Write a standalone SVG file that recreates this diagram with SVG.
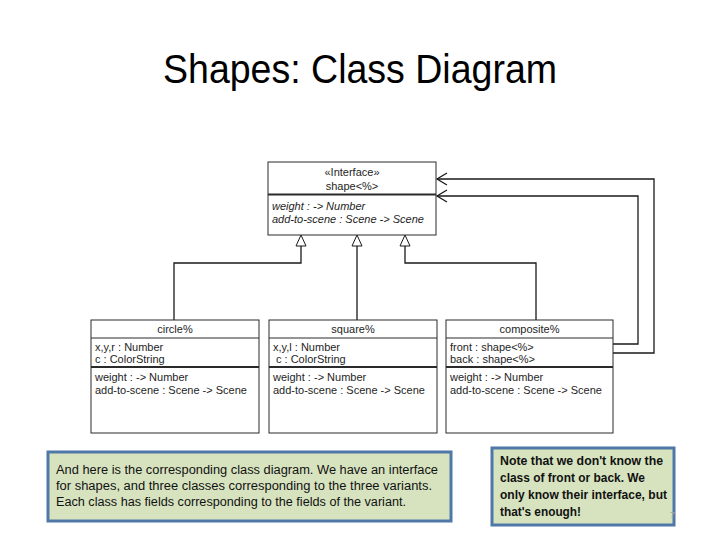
<svg xmlns="http://www.w3.org/2000/svg" width="720" height="540" viewBox="0 0 720 540">
<defs>
<style>
.uml{font-family:"Liberation Sans",Arial,sans-serif;font-size:11px;fill:#1e1e1e}
.it{font-style:italic}
.mid{text-anchor:middle}
.box{fill:#ffffff;stroke:#2a2a2a;stroke-width:1}
.sep{stroke:#2a2a2a;stroke-width:1}
.sep2{stroke:#2a2a2a;stroke-width:2}
.conn{fill:none;stroke:#1a1a1a;stroke-width:1.3}
.tri{fill:#ffffff;stroke:#1a1a1a;stroke-width:1}
.note{fill:#d7e3bf;stroke:#4f78a8;stroke-width:3}
.nt{font-family:"Liberation Sans",Arial,sans-serif;font-size:12px;fill:#111}
.nb{font-family:"Liberation Sans",Arial,sans-serif;font-size:12.5px;font-weight:bold;fill:#111}
</style>
<marker id="tri" markerWidth="12" markerHeight="12" refX="0" refY="0" orient="auto" markerUnits="userSpaceOnUse" viewBox="-6 -12 12 12">
<path d="M0,0 L-5,-11 L5,-11 Z" class="tri"/>
</marker>
</defs>
<rect width="720" height="540" fill="#ffffff"/>
<text x="360" y="83" text-anchor="middle" font-family="'Liberation Sans',Arial,sans-serif" font-size="41" fill="#000" textLength="394" lengthAdjust="spacingAndGlyphs">Shapes: Class Diagram</text>

<g id="connectors">
<path class="conn" d="M174,320 V263 H301 V246"/>
<path class="conn" d="M357,320 V246"/>
<path class="conn" d="M536,320 V263 H405 V246"/>
<path class="tri" d="M301,235 L296,246 L306,246 Z"/>
<path class="tri" d="M357,235 L352,246 L362,246 Z"/>
<path class="tri" d="M405,235 L400,246 L410,246 Z"/>
<path class="conn" d="M613,344 H638 V196 H437" stroke-width="1.6"/>
<path class="conn" d="M447,190 L437,196 L447,202"/>
<path class="conn" d="M613,353 H654 V179 H437" stroke="#555" stroke-width="1.1"/>
<path class="conn" d="M447,173 L437,179 L447,185" stroke="#555" stroke-width="1.1"/>
</g>

<g id="interface-shape">
<rect class="box" x="268" y="162" width="168" height="73"/>
<line class="sep2" x1="268" y1="194.5" x2="436" y2="194.5"/>
<text class="uml mid" x="352" y="176">«Interface»</text>
<text class="uml mid" x="352" y="190">shape&lt;%&gt;</text>
<text class="uml it" x="272" y="210">weight : -&gt; Number</text>
<text class="uml it" x="272" y="223">add-to-scene : Scene -&gt; Scene</text>
</g>

<g id="class-circle">
<rect class="box" x="91" y="320" width="168" height="113"/>
<line class="sep" x1="91" y1="338" x2="259" y2="338"/>
<line class="sep2" x1="91" y1="367" x2="259" y2="367"/>
<text class="uml mid" x="175" y="333">circle%</text>
<text class="uml" x="95" y="351">x,y,r : Number</text>
<text class="uml" x="95" y="363">c : ColorString</text>
<text class="uml" x="95" y="381">weight : -&gt; Number</text>
<text class="uml" x="95" y="394">add-to-scene : Scene -&gt; Scene</text>
</g>

<g id="class-square">
<rect class="box" x="269" y="320" width="168" height="113"/>
<line class="sep" x1="269" y1="338" x2="437" y2="338"/>
<line class="sep2" x1="269" y1="367" x2="437" y2="367"/>
<text class="uml mid" x="353" y="333">square%</text>
<text class="uml" x="273" y="351">x,y,l : Number</text>
<text class="uml" x="276" y="363">c : ColorString</text>
<text class="uml" x="273" y="381">weight : -&gt; Number</text>
<text class="uml" x="273" y="394">add-to-scene : Scene -&gt; Scene</text>
</g>

<g id="class-composite">
<rect class="box" x="446" y="320" width="167" height="113"/>
<line class="sep" x1="446" y1="338" x2="613" y2="338"/>
<line class="sep2" x1="446" y1="367" x2="613" y2="367"/>
<text class="uml mid" x="529.5" y="333">composite%</text>
<text class="uml" x="450" y="351">front : shape&lt;%&gt;</text>
<text class="uml" x="450" y="363">back : shape&lt;%&gt;</text>
<text class="uml" x="450" y="381">weight : -&gt; Number</text>
<text class="uml" x="450" y="394">add-to-scene : Scene -&gt; Scene</text>
</g>

<g id="note-left">
<rect class="note" x="48" y="452" width="403" height="69"/>
<text class="nt" x="56" y="474" textLength="382" lengthAdjust="spacingAndGlyphs">And here is the corresponding class diagram.  We have an interface</text>
<text class="nt" x="56" y="490" textLength="376" lengthAdjust="spacingAndGlyphs">for shapes, and three classes corresponding to the three variants.</text>
<text class="nt" x="56" y="506" textLength="350" lengthAdjust="spacingAndGlyphs">Each class has fields corresponding to the fields of the variant.</text>
</g>

<g id="note-right">
<rect class="note" x="492" y="448" width="182" height="77"/>
<text class="nb" x="500" y="465" textLength="163" lengthAdjust="spacingAndGlyphs">Note that we don't know the</text>
<text class="nb" x="500" y="482" textLength="145" lengthAdjust="spacingAndGlyphs">class of front or back.  We</text>
<text class="nb" x="500" y="499" textLength="167" lengthAdjust="spacingAndGlyphs">only know their interface, but</text>
<text class="nb" x="500" y="516" textLength="81" lengthAdjust="spacingAndGlyphs">that's enough!</text>
<text x="670" y="518" font-family="'Liberation Sans',Arial,sans-serif" font-size="9" fill="#a0a0a0">7</text>
</g>
</svg>
